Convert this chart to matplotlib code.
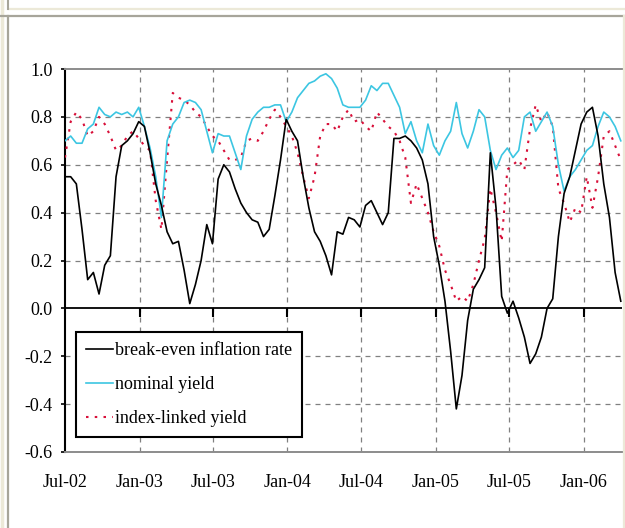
import matplotlib
matplotlib.use("Agg")
import matplotlib.pyplot as plt
import matplotlib.dates as mdates
from matplotlib.lines import Line2D
import pandas as pd
import datetime as dt

# fortnightly observations, Jul 2002 - Mar 2006
dates = pd.date_range("2002-07-01", periods=99, freq="14D")

breakeven = [
    0.55, 0.55, 0.52, 0.33, 0.12, 0.15, 0.06, 0.18, 0.22, 0.55,
    0.68, 0.70, 0.73, 0.78, 0.76, 0.65, 0.52, 0.43, 0.32, 0.27,
    0.28, 0.16, 0.02, 0.10, 0.20, 0.35, 0.27, 0.54, 0.60, 0.57,
    0.50, 0.44, 0.40, 0.37, 0.36, 0.30, 0.33, 0.47, 0.62, 0.79,
    0.74, 0.70, 0.55, 0.42, 0.32, 0.28, 0.22, 0.14, 0.32, 0.31,
    0.38, 0.37, 0.34, 0.43, 0.45, 0.40, 0.35, 0.40, 0.71, 0.71,
    0.72, 0.70, 0.67, 0.62, 0.52, 0.30, 0.18, 0.03, -0.18, -0.42,
    -0.28, -0.05, 0.08, 0.12, 0.17, 0.65, 0.42, 0.05, -0.02, 0.03,
    -0.04, -0.12, -0.23, -0.19, -0.12, 0.00, 0.04, 0.30, 0.48, 0.55,
    0.66, 0.77, 0.82, 0.84, 0.72, 0.52, 0.38, 0.15, 0.03,
]

nominal = [
    0.70, 0.72, 0.69, 0.69, 0.75, 0.77, 0.84, 0.81, 0.80, 0.82,
    0.81, 0.82, 0.80, 0.84, 0.76, 0.67, 0.55, 0.38, 0.70, 0.77,
    0.80, 0.86, 0.87, 0.86, 0.83, 0.74, 0.65, 0.73, 0.72, 0.72,
    0.65, 0.58, 0.72, 0.79, 0.82, 0.84, 0.84, 0.85, 0.85, 0.78,
    0.82, 0.88, 0.91, 0.94, 0.95, 0.97, 0.98, 0.96, 0.92, 0.85,
    0.84, 0.84, 0.84, 0.87, 0.93, 0.91, 0.94, 0.94, 0.89, 0.84,
    0.73, 0.78, 0.70, 0.65, 0.77, 0.68, 0.64, 0.70, 0.74, 0.86,
    0.73, 0.67, 0.74, 0.83, 0.80, 0.66, 0.58, 0.64, 0.67, 0.63,
    0.66, 0.80, 0.82, 0.74, 0.78, 0.82, 0.76, 0.60, 0.49, 0.55,
    0.58, 0.62, 0.66, 0.68, 0.76, 0.82, 0.80, 0.76, 0.70,
]

index_linked = [
    0.63, 0.78, 0.82, 0.79, 0.72, 0.74, 0.80, 0.77, 0.72, 0.66,
    0.68, 0.72, 0.74, 0.71, 0.68, 0.66, 0.45, 0.33, 0.62, 0.90,
    0.88, 0.87, 0.85, 0.82, 0.80, 0.76, 0.72, 0.70, 0.66, 0.62,
    0.62, 0.63, 0.70, 0.71, 0.70, 0.74, 0.79, 0.83, 0.80, 0.76,
    0.72, 0.65, 0.55, 0.46, 0.55, 0.72, 0.77, 0.77, 0.74, 0.80,
    0.83, 0.78, 0.79, 0.76, 0.74, 0.82, 0.79, 0.76, 0.74, 0.70,
    0.63, 0.44, 0.52, 0.46, 0.40, 0.32, 0.26, 0.16, 0.10, 0.03,
    0.05, 0.03, 0.10, 0.20, 0.29, 0.50, 0.40, 0.28, 0.58, 0.60,
    0.62, 0.58, 0.75, 0.85, 0.78, 0.82, 0.76, 0.50, 0.44, 0.36,
    0.42, 0.40, 0.55, 0.42, 0.55, 0.72, 0.74, 0.68, 0.62,
]

tick_dates = [dt.date(2002, 7, 1), dt.date(2003, 1, 1), dt.date(2003, 7, 1),
              dt.date(2004, 1, 1), dt.date(2004, 7, 1), dt.date(2005, 1, 1),
              dt.date(2005, 7, 1), dt.date(2006, 1, 1)]
y_ticks = [-0.6, -0.4, -0.2, 0.0, 0.2, 0.4, 0.6, 0.8, 1.0]

plt.rcParams["font.family"] = ["Liberation Serif", "DejaVu Serif"]

W, H = 625, 528
fig = plt.figure(figsize=(W / 100, H / 100), dpi=100)
fig.patch.set_facecolor("white")

# window frame around the chart
def frame_line(x0, y0, x1, y1, color, lw):
    fig.add_artist(Line2D([x0 / W, x1 / W], [1 - y0 / H, 1 - y1 / H],
                          transform=fig.transFigure, color=color, lw=lw))

frame_line(2, 0, 2, H, "#ECE9D8", 2.5)
frame_line(9, 8.5, W, 8.5, "#ECE9D8", 1.6)
frame_line(8, 0, 8, 9, "#A7A59A", 1.5)
frame_line(0, 16, W, 16, "#A7A59A", 1.6)
frame_line(8, 16, 8, H, "#A7A59A", 1.6)
frame_line(623.5, 16, 623.5, H, "#ECE9D8", 1.6)

ax = fig.add_axes([65 / W, 1 - 452 / H, 557 / W, 383 / H])

grid_kw = dict(color="#808080", lw=0.9, linestyle=(0, (4, 4)), zorder=1)
for y in [-0.4, -0.2, 0.2, 0.4, 0.6, 0.8]:
    ax.axhline(y, **grid_kw)
for d in tick_dates[1:]:
    ax.axvline(d, **grid_kw)

ax.plot(dates, index_linked, color="#D8103A", lw=1.5,
        linestyle=(0, (1.2, 3)), label="index-linked yield", zorder=3)
ax.plot(dates, nominal, color="#3CC6E2", lw=1.2, label="nominal yield", zorder=4)
ax.plot(dates, breakeven, color="black", lw=1.2,
        label="break-even inflation rate", zorder=5)

# x axis crosses at zero with short ticks below it
ax.axhline(0, color="black", lw=1.3, zorder=6)
ax.vlines(tick_dates[1:], -0.035, 0, color="black", lw=1.5, zorder=6)

ax.set_xlim(dt.date(2002, 7, 1), dt.date(2006, 4, 6))
ax.set_ylim(-0.6, 1.0)
ax.set_xticks(tick_dates)
ax.xaxis.set_major_formatter(mdates.DateFormatter("%b-%y"))
ax.set_yticks(y_ticks)
ax.set_yticklabels([f"{v:.1f}" for v in y_ticks])

ax.tick_params(axis="x", length=0, pad=16, labelsize=13)
ax.tick_params(axis="y", direction="out", length=3, width=1.2,
               pad=6, labelsize=13)

ax.spines["left"].set_color("black")
ax.spines["left"].set_linewidth(1.5)
for side in ["top", "bottom"]:
    ax.spines[side].set_color("#8C8C8C")
    ax.spines[side].set_linewidth(1.4)
ax.spines["right"].set_visible(False)

handles, labels = ax.get_legend_handles_labels()
leg = ax.legend(handles[::-1], labels[::-1], loc="lower left",
                bbox_to_anchor=(0.02, 0.039), borderaxespad=0,
                fontsize=13, handlelength=1.5, handletextpad=0.1,
                labelspacing=0.95, borderpad=0.55, fancybox=False,
                framealpha=1, edgecolor="black")
leg.get_frame().set_linewidth(1.5)
leg.set_zorder(7)

fig.savefig("out.png", dpi=100)
